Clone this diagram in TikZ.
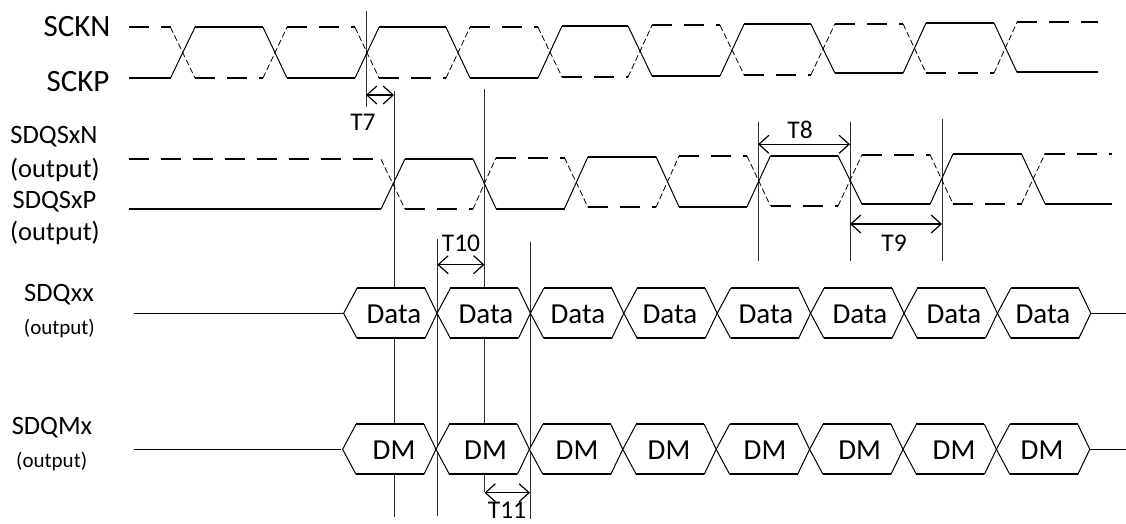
\documentclass[tikz,border=0pt]{standalone}
\usepackage{fontspec}
\setmainfont{Carlito}
\usetikzlibrary{arrows.meta}
\def\fs#1{\fontsize{#1}{#1}\selectfont}
\tikzset{
  plateau/.style={line width=2pt},
  plateaudash/.style={line width=2pt,dash pattern=on 20pt off 12pt},
  slant/.style={line width=1pt},
  slantdash/.style={line width=.8pt,dash pattern=on 6pt off 3pt},
  guide/.style={line width=.8pt,black!80},
  dim/.style={line width=1.2pt,{Straight Barb[length=10pt,width=18pt]}-{Straight Barb[length=10pt,width=18pt]}},
  lab/.style={inner sep=0pt,font=\fs{25.5}},
  toplab/.style={inner sep=0pt,font=\fs{31}},
  sublab/.style={inner sep=0pt,font=\fs{26.5}},
  smalllab/.style={inner sep=0pt,font=\fs{21}},
  cell/.style={inner sep=0pt,font=\fs{29}}
}
% start x, start solid y, start dashed y, then xa/xb/solid y/dashed y for every flat part
\def\wave#1#2#3#4{
  \foreach \xa/\xb/\ys/\yd [remember=\xb as \xo (initially #1),remember=\ys as \yso (initially #2),remember=\yd as \ydo (initially #3)] in {#4}{
    \draw[slant] (\xo,\yso)--(\xa,\ys);
    \draw[slantdash] (\xo,\ydo)--(\xa,\yd);
    \draw[plateau] (\xa,\ys)--(\xb,\ys);
    \draw[plateaudash] (\xa,\yd)--(\xb,\yd);
  }
}
% name, first tip x, mid y, text, list of text centres
\def\busrow#1#2#3#4#5{
  \foreach \cx [count=\i from 0] in {#5}{
    \pgfmathsetmacro\xl{#2+93.4*\i}
    \fill[white] (\xl,#3)--(\xl+13.4,#3-25)--(\xl+81.4,#3-25)--(\xl+93.4,#3)--(\xl+81.4,#3+25)--(\xl+13.4,#3+25)--cycle;
    \draw[slant] (\xl+13.4,#3-25)--(\xl,#3)--(\xl+13.4,#3+25);
    \draw[slant] (\xl+81.4,#3-25)--(\xl+93.4,#3)--(\xl+81.4,#3+25);
    \draw[plateau] (\xl+13.4,#3-25)--(\xl+81.4,#3-25);
    \draw[plateau] (\xl+13.4,#3+25)--(\xl+81.4,#3+25);
    \node[cell] (#1\i) at (\cx,#3+1) {#4};
  }
}
\begin{document}
\begin{tikzpicture}[x=1pt,y=-1pt]
\useasboundingbox (0,0) rectangle (1126,524);
% guides go first, the bus cells cover them
\draw[guide] (366,11)--(366,107);
\draw[guide] (394,91)--(394,517);
\draw[guide] (484.5,89)--(484.5,492);
\draw[guide] (437.3,239)--(437.3,516);
\draw[guide] (530,242)--(530,519);
\draw[guide] (758,122)--(758,261);
\draw[guide] (850,122)--(850,261);
\draw[guide] (942,119)--(942,261);
% clock pair
\wave{129}{78}{27.3}{129/170.5/78/27.3,195/263/27.3/78,287/355/78/27.3,379/446/27.3/78,470/538/78/27.3,562/628/26/77,652/720/76/25.3,744/811/24.3/74.7,835/903/73.3/23.7,926/994/23/73,1017/1098/72.3/22.3}
% strobe pair
\wave{129}{209}{159.3}{129/381/209/159.3,405/473/159/209,496/564.5/208.5/157.7,588/656/156.7/207.3,679/747/206.7/156,770.5/838/155.7/206,862/930/204.3/154.7,953/1021.5/154/203.7,1045/1112/203.7/153.7}
% bus rows
\coordinate (sdqin) at (133.6,313.3);
\coordinate (sdqtip) at (343.6,313.3);
\coordinate (sdqend) at (1090,313.3);
\coordinate (sdqout) at (1126,313.3);
\draw[slant] (sdqin)--(sdqtip);
\draw[slant] (sdqend)--(sdqout);
\busrow{data}{343.6}{313.3}{Data}{394,486,578,670,766,860,954,1043}
\coordinate (dmin) at (133.6,449.3);
\coordinate (dmtip) at (341,449.3);
\coordinate (dmend) at (1089,449.3);
\coordinate (dmout) at (1126,449.3);
\draw[slant] (dmin)--(dmtip);
\draw[slant] (dmend)--(dmout);
\busrow{dm}{342.6}{449.3}{DM}{394,485.5,577,669,765,859.6,954,1042}
% timing arrows
\coordinate (t7a) at (366,95);
\coordinate (t7b) at (394,95);
\draw[dim] (t7a)--(t7b);
\coordinate (t8a) at (758,144.3);
\coordinate (t8b) at (850,144.3);
\draw[dim] (t8a)--(t8b);
\coordinate (t9a) at (850,224);
\coordinate (t9b) at (942,224);
\draw[dim] (t9a)--(t9b);
\coordinate (t10a) at (437.3,264.7);
\coordinate (t10b) at (484.5,264.7);
\draw[dim] (t10a)--(t10b);
\coordinate (t11a) at (484.5,492.7);
\coordinate (t11b) at (530,492.7);
\draw[dim] (t11a)--(t11b);
\node[lab] (t7) at (363,122) {T7};
\node[lab] (t8) at (800,130) {T8};
\node[lab] (t9) at (894,243) {T9};
\node[lab] (t10) at (461,243) {T10};
\node[lab] (t11) at (507,510.5) {T11};
% signal names
\node[toplab] (sckn) at (77,27) {SCKN};
\node[toplab] (sckp) at (78,82) {SCKP};
\node[sublab] (sdqsn) at (54,137) {SDQSxN};
\node[sublab] (sdqsno) at (55,170) {(output)};
\node[sublab] (sdqsp) at (54.5,201.6) {SDQSxP};
\node[sublab] (sdqspo) at (55,233) {(output)};
\node[sublab] (sdqxx) at (59,295) {SDQxx};
\node[smalllab] (sdqxxo) at (59.4,328.7) {(output)};
\node[sublab] (sdqm) at (52,428) {SDQMx};
\node[smalllab] (sdqmo) at (51.7,462) {(output)};
\end{tikzpicture}
\end{document}
